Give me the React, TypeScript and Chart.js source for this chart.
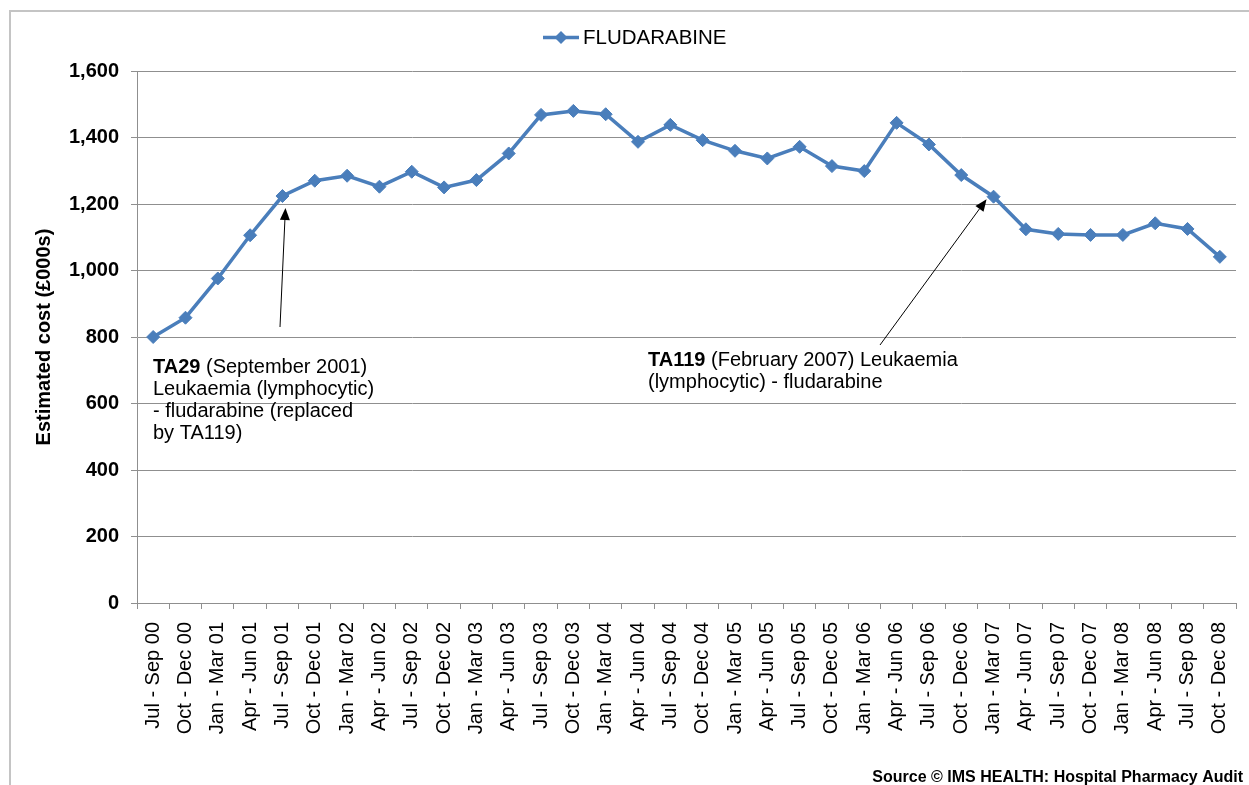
import React, { useEffect, useRef } from "react";
import { Chart, registerables } from "chart.js";

Chart.register(...registerables);

const categories = [
  "Jul - Sep 00", "Oct - Dec 00", "Jan - Mar 01", "Apr - Jun 01", "Jul - Sep 01", "Oct - Dec 01",
  "Jan - Mar 02", "Apr - Jun 02", "Jul - Sep 02", "Oct - Dec 02", "Jan - Mar 03", "Apr - Jun 03",
  "Jul - Sep 03", "Oct - Dec 03", "Jan - Mar 04", "Apr - Jun 04", "Jul - Sep 04", "Oct - Dec 04",
  "Jan - Mar 05", "Apr - Jun 05", "Jul - Sep 05", "Oct - Dec 05", "Jan - Mar 06", "Apr - Jun 06",
  "Jul - Sep 06", "Oct - Dec 06", "Jan - Mar 07", "Apr - Jun 07", "Jul - Sep 07", "Oct - Dec 07",
  "Jan - Mar 08", "Apr - Jun 08", "Jul - Sep 08", "Oct - Dec 08",
];

const fludarabine = [
  800, 858, 976, 1106, 1224, 1270, 1285, 1252, 1297, 1250, 1272, 1352,
  1468, 1480, 1470, 1387, 1438, 1392, 1360, 1337, 1372, 1314, 1299, 1444,
  1379, 1287, 1222, 1124, 1110, 1107, 1107, 1142, 1125, 1041,
];

const seriesName = "FLUDARABINE";
const yTitle = "Estimated cost (£000s)";
const yMin = 0;
const yMax = 1600;
const yStep = 200;
const sourceText = "Source © IMS HEALTH: Hospital Pharmacy Audit";

const FONT = '"Liberation Sans", Arial, sans-serif';
const BLUE = "#4a7ebb";
const GRID = "#8f8f8f";

function drawDiamond(ctx: CanvasRenderingContext2D, x: number, y: number, r: number) {
  ctx.beginPath();
  ctx.moveTo(x, y - r);
  ctx.lineTo(x + r, y);
  ctx.lineTo(x, y + r);
  ctx.lineTo(x - r, y);
  ctx.closePath();
  ctx.fill();
}

function drawArrow(ctx: CanvasRenderingContext2D, x1: number, y1: number, x2: number, y2: number) {
  const ang = Math.atan2(y2 - y1, x2 - x1);
  const hl = 12;
  const hw = 5;
  const bx = x2 - hl * Math.cos(ang);
  const by = y2 - hl * Math.sin(ang);
  ctx.strokeStyle = "#000";
  ctx.fillStyle = "#000";
  ctx.lineWidth = 1;
  ctx.beginPath();
  ctx.moveTo(x1, y1);
  ctx.lineTo(bx, by);
  ctx.stroke();
  ctx.beginPath();
  ctx.moveTo(x2, y2);
  ctx.lineTo(bx + hw * Math.sin(ang), by - hw * Math.cos(ang));
  ctx.lineTo(bx - hw * Math.sin(ang), by + hw * Math.cos(ang));
  ctx.closePath();
  ctx.fill();
}

function drawMixed(ctx: CanvasRenderingContext2D, x: number, y: number, bold: string, rest: string, size: number) {
  ctx.textAlign = "left";
  ctx.textBaseline = "middle";
  ctx.fillStyle = "#000";
  let cx = x;
  if (bold) {
    ctx.font = `bold ${size}px ${FONT}`;
    ctx.fillText(bold, cx, y);
    cx += ctx.measureText(bold).width;
  }
  ctx.font = `${size}px ${FONT}`;
  ctx.fillText(rest, cx, y);
}

const overlayPlugin = {
  id: "overlay",
  afterDraw(chart: any) {
    const ctx: CanvasRenderingContext2D = chart.ctx;
    const xs = chart.scales.x;
    const ys = chart.scales.y;
    ctx.save();

    // Legend
    ctx.strokeStyle = BLUE;
    ctx.lineWidth = 3.5;
    ctx.beginPath();
    ctx.moveTo(543, 37.5);
    ctx.lineTo(579, 37.5);
    ctx.stroke();
    ctx.fillStyle = BLUE;
    drawDiamond(ctx, 561, 37.5, 6.5);
    ctx.fillStyle = "#000";
    ctx.font = `20.5px ${FONT}`;
    ctx.textAlign = "left";
    ctx.textBaseline = "middle";
    ctx.fillText(seriesName, 583, 38.5);

    // Annotation 1
    const size = 20;
    drawMixed(ctx, 153, 367, "TA29", " (September 2001)", size);
    drawMixed(ctx, 153, 389, "", "Leukaemia (lymphocytic)", size);
    drawMixed(ctx, 153, 411, "", "- fludarabine (replaced", size);
    drawMixed(ctx, 153, 433, "", "by TA119)", size);
    const p1x = xs.getPixelForValue(4);
    const p1y = ys.getPixelForValue(fludarabine[4]);
    drawArrow(ctx, 280, 327, p1x + 3, p1y + 12);

    // Annotation 2
    drawMixed(ctx, 648, 360, "TA119", " (February 2007) Leukaemia", size);
    drawMixed(ctx, 648, 382, "", "(lymphocytic) - fludarabine", size);
    const p2x = xs.getPixelForValue(26);
    const p2y = ys.getPixelForValue(fludarabine[26]);
    drawArrow(ctx, 880, 345, p2x - 7, p2y + 2.5);

    // Source
    ctx.font = `bold 16px ${FONT}`;
    ctx.textAlign = "right";
    ctx.textBaseline = "middle";
    ctx.fillStyle = "#000";
    ctx.fillText(sourceText, 1243, 778);

    ctx.restore();
  },
};

export default function App() {
  const canvasRef = useRef<HTMLCanvasElement | null>(null);

  useEffect(() => {
    if (!canvasRef.current) return;
    const chart = new Chart(canvasRef.current, {
      type: "line",
      data: {
        labels: categories,
        datasets: [
          {
            label: seriesName,
            data: fludarabine,
            borderColor: BLUE,
            backgroundColor: BLUE,
            borderWidth: 3.5,
            pointStyle: "rectRot",
            pointRadius: 6.5,
            pointBackgroundColor: BLUE,
            pointBorderColor: BLUE,
            pointBorderWidth: 1,
            tension: 0,
            fill: false,
          },
        ],
      },
      options: {
        animation: false,
        responsive: true,
        maintainAspectRatio: false,
        layout: { padding: { top: 71, right: 13, bottom: 0, left: 0 } },
        plugins: {
          legend: { display: false },
          tooltip: { enabled: false },
        },
        scales: {
          x: {
            type: "category",
            offset: true,
            afterFit: (scale: any) => {
              scale.height = 182;
              scale.paddingLeft = 0;
              scale.paddingRight = 0;
            },
            grid: {
              display: true,
              offset: true,
              drawOnChartArea: false,
              drawTicks: true,
              tickLength: 6,
              color: GRID,
              lineWidth: 1,
            },
            border: { display: true, color: GRID, width: 1 },
            ticks: {
              autoSkip: false,
              minRotation: 90,
              maxRotation: 90,
              padding: 13,
              color: "#000",
              font: { family: FONT, size: 20 },
            },
          },
          y: {
            min: yMin,
            max: yMax,
            afterFit: (scale: any) => {
              scale.width = 137;
              scale.paddingTop = 0;
              scale.paddingBottom = 0;
            },
            grid: {
              color: GRID,
              lineWidth: 1,
              drawTicks: true,
              tickLength: 6,
            },
            border: { display: true, color: GRID, width: 1 },
            ticks: {
              stepSize: yStep,
              padding: 12,
              color: "#000",
              font: { family: FONT, size: 20, weight: "bold" },
            },
            title: {
              display: true,
              text: yTitle,
              color: "#000",
              font: { family: FONT, size: 20, weight: "bold" },
              padding: { top: 32, bottom: 0 },
            },
          },
        },
      },
      plugins: [overlayPlugin],
    } as any);
    return () => chart.destroy();
  }, []);

  return (
    <div
      style={{
        position: "absolute",
        left: 0,
        top: 0,
        width: 1249,
        height: 785,
        overflow: "hidden",
        background: "#fff",
      }}
    >
      <div
        style={{
          position: "absolute",
          left: 9,
          top: 10,
          width: 1400,
          height: 900,
          borderTop: "2px solid #c4c4c4",
          borderLeft: "2px solid #c4c4c4",
        }}
      />
      <div style={{ position: "absolute", left: 0, top: 0, width: 1249, height: 785 }}>
        <canvas ref={canvasRef} />
      </div>
    </div>
  );
}
